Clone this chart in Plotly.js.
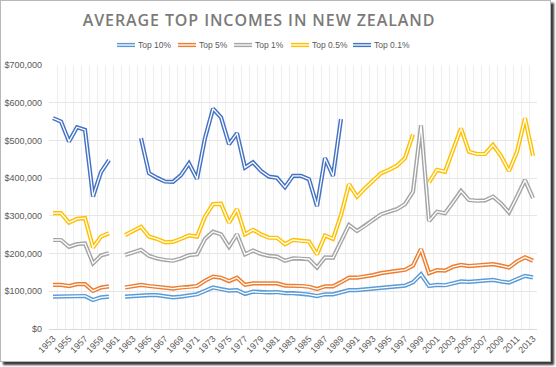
<!DOCTYPE html>
<html>
<head>
<meta charset="utf-8">
<script src="https://cdn.plot.ly/plotly-3.0.1.min.js"></script>
<style>
  html, body { margin: 0; padding: 0; background: #ffffff; }
  #wrap { position: relative; width: 556px; height: 367px; overflow: hidden; background: #fff; }
  #chart { position: absolute; left: 0; top: 0; width: 556px; height: 367px; }
  #frame { position: absolute; left: 0; top: 0; width: 549px; height: 360px;
           border: 1px solid #b8b8b8; box-shadow: 3px 3px 2px #3a3a3a; pointer-events: none; }
  .gtitle { letter-spacing: 0.9px; }
</style>
</head>
<body>
<div id="wrap">
  <div id="chart"></div>
  <div id="frame"></div>
</div>
<script>
const years = [1953,1954,1955,1956,1957,1958,1959,1960,1961,1962,1963,1964,1965,1966,1967,1968,1969,1970,
  1971,1972,1973,1974,1975,1976,1977,1978,1979,1980,1981,1982,1983,1984,1985,1986,1987,1988,1989,1990,
  1991,1992,1993,1994,1995,1996,1997,1998,1999,2000,2001,2002,2003,2004,2005,2006,2007,2008,2009,2010,
  2011,2012,2013];

const seriesNames = ["Top 10%", "Top 5%", "Top 1%", "Top 0.5%", "Top 0.1%"];
const seriesColors = ["#5B9BD5", "#ED7D31", "#A5A5A5", "#FFC000", "#4472C4"];

const top10 = [86000,86000,86000,87500,87500,77000,84000,86000,null,86000,87500,90000,90000,90000,86000,84000,
  86000,88000,92000,101000,110000,106000,102000,103000,93000,99000,97000,97000,98000,95000,95000,94000,
  91000,87500,92000,92000,97000,103000,103000,105000,108000,110000,111000,112000,115000,124000,145000,
  114000,117000,116000,121000,126000,125000,126000,128000,130000,126000,123000,132000,141000,137000];

const top5 = [117000,117000,114000,119000,119000,101000,110000,113000,null,110000,114000,117000,114000,111000,108000,107000,
  110000,111000,114000,128000,139000,136000,127000,136000,117000,121000,121000,121000,121000,115000,115000,114000,
  112000,106000,113000,113000,124000,136000,136000,139000,143000,148000,152000,154000,157000,168000,212000,
  148000,156000,155000,165000,170000,167000,168000,170000,172000,168000,163000,179000,190000,181000];

const top1 = [236000,236000,218000,225000,227000,174000,195000,201000,null,196000,203000,210000,194000,187000,183000,181000,
  187000,196000,198000,239000,258000,251000,218000,251000,198000,208000,199000,194000,192000,181000,187000,187000,
  185000,163000,190000,189000,232000,276000,260000,273000,289000,304000,311000,318000,331000,364000,540000,
  286000,311000,307000,336000,366000,342000,340000,341000,351000,333000,309000,351000,395000,347000];

const top05 = [307000,307000,282000,292000,294000,216000,245000,254000,null,249000,260000,271000,245000,239000,230000,231000,
  239000,248000,245000,298000,331000,332000,282000,318000,251000,263000,251000,242000,242000,225000,236000,235000,
  232000,198000,248000,239000,302000,384000,351000,373000,393000,413000,422000,433000,453000,516000,null,
  389000,422000,417000,475000,532000,470000,464000,464000,488000,459000,419000,470000,559000,459000];

const top01 = [559000,550000,497000,535000,528000,351000,416000,448000,null,null,null,506000,413000,401000,391000,390000,
  408000,439000,398000,506000,584000,561000,490000,519000,428000,442000,419000,404000,401000,376000,406000,406000,
  397000,326000,453000,406000,557000,null,null,null,null,null,null,null,null,null,null,
  null,null,null,null,null,null,null,null,null,null,null,null,null,null];

const yTickVals = [0,100000,200000,300000,400000,500000,600000,700000];
const xTickVals = years.filter((y, i) => i % 2 === 0);

const allSeries = [top10, top5, top1, top05, top01];
const traces = [];
allSeries.forEach((vals, k) => {
  traces.push({
    x: years, y: vals, type: "scatter", mode: "lines", name: seriesNames[k],
    line: { color: seriesColors[k], width: 4.2 }, connectgaps: false,
    showlegend: false, hoverinfo: "skip"
  });
  traces.push({
    x: years, y: vals, type: "scatter", mode: "lines", name: seriesNames[k] + " (inner)",
    line: { color: "#ffffff", width: 1.3 }, connectgaps: false,
    showlegend: false, hoverinfo: "skip"
  });
});

// --- legend drawn as shapes + text (double-line symbols like the original) ---
const M = { l: 49, r: 19, t: 65, b: 38 };
const W = 556, H = 367;
const pw = W - M.l - M.r, ph = H - M.t - M.b;
const px2x = px => (px - M.l) / pw;
const py2y = py => 1 - (py - M.t) / ph;
const legendSymbolX = [117, 178, 234, 291, 353];
const legendSymbolLen = 18;
const legendY = 45;
const shapes = [];
const annotations = [];
seriesNames.forEach((nm, k) => {
  const x0 = px2x(legendSymbolX[k]), x1 = px2x(legendSymbolX[k] + legendSymbolLen);
  const yy = py2y(legendY);
  shapes.push({ type: "line", xref: "paper", yref: "paper", x0: x0, x1: x1, y0: yy, y1: yy,
    line: { color: seriesColors[k], width: 4.2 } });
  shapes.push({ type: "line", xref: "paper", yref: "paper", x0: x0, x1: x1, y0: yy, y1: yy,
    line: { color: "#ffffff", width: 1.3 } });
  annotations.push({ xref: "paper", yref: "paper", x: px2x(legendSymbolX[k] + legendSymbolLen + 1), y: yy,
    xanchor: "left", yanchor: "middle", showarrow: false, text: nm,
    font: { family: "Liberation Sans, Arial, sans-serif", size: 8.5, color: "#595959" } });
});

const layout = {
  width: W, height: H,
  margin: { l: M.l, r: M.r, t: M.t, b: M.b, pad: 0 },
  paper_bgcolor: "#ffffff", plot_bgcolor: "#ffffff",
  font: { family: "Liberation Sans, Arial, sans-serif", size: 9, color: "#595959" },
  title: {
    text: "AVERAGE TOP INCOMES IN NEW ZEALAND",
    font: { family: "Open Sans, Liberation Sans, sans-serif", size: 16, color: "#7a7a7a", weight: 600 },
    x: 259 / W, xanchor: "center", xref: "container", y: 1 - 20 / H, yanchor: "middle", yref: "container"
  },
  showlegend: false,
  shapes: shapes,
  annotations: annotations,
  xaxis: {
    type: "linear", range: [1952.5, 2013.5],
    tickmode: "array", tickvals: xTickVals, ticktext: xTickVals.map(String),
    tickangle: -45, showgrid: false, zeroline: false,
    showline: true, linecolor: "#d9d9d9", linewidth: 1,
    ticks: "", tickfont: { size: 9, color: "#595959" },
    minor: { tickmode: "linear", tick0: 1952.5, dtick: 1, showgrid: true, gridcolor: "#eeeeee", gridwidth: 1, ticks: "" },
    fixedrange: true
  },
  yaxis: {
    range: [0, 700000], tickmode: "array", tickvals: yTickVals,
    tickformat: "$,.0f", showgrid: true, gridcolor: "#e6e6e6", gridwidth: 1,
    zeroline: false, showline: false, ticks: "", ticklabelstandoff: 6,
    tickfont: { size: 9, color: "#595959" }, fixedrange: true
  }
};

Plotly.newPlot("chart", traces, layout, { displayModeBar: false, staticPlot: true });
</script>
</body>
</html>
